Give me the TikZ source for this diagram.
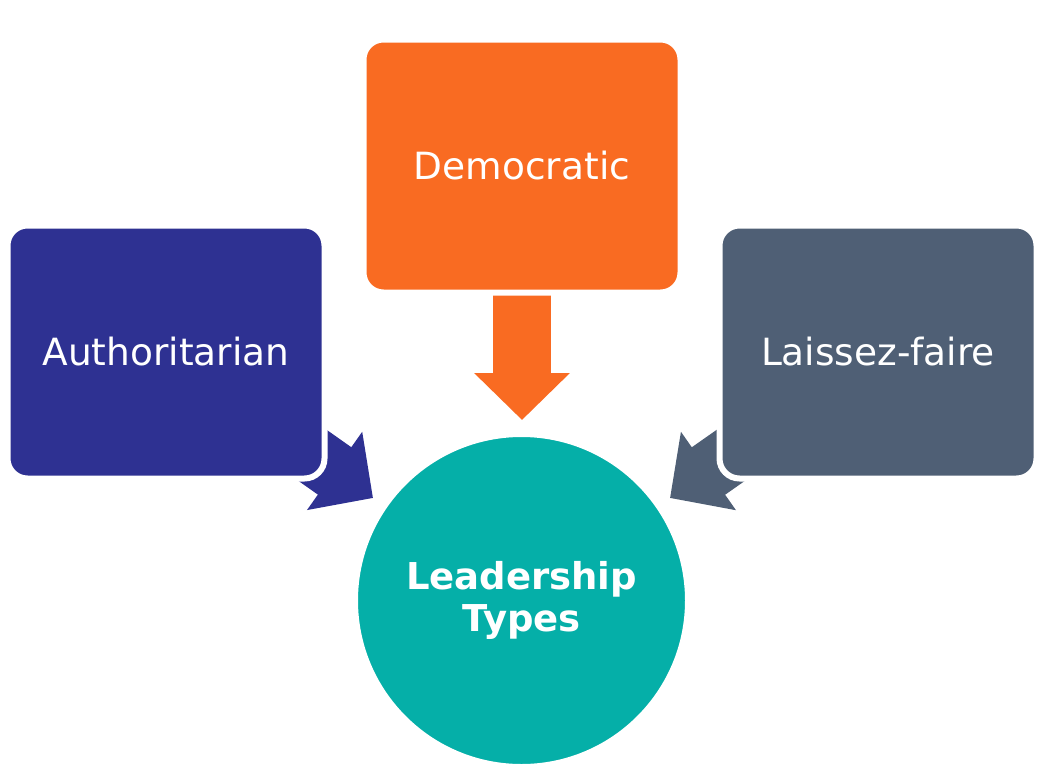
\documentclass[tikz,border=0pt]{standalone}
\usepackage{fontspec}
\setmainfont{DejaVu Sans}
\usetikzlibrary{arrows.meta}
\definecolor{demorange}{HTML}{F96B22}
\definecolor{authblue}{HTML}{2E3192}
\definecolor{laisslate}{HTML}{4F5F75}
\definecolor{typeteal}{HTML}{05AFA8}
\begin{document}
\begin{tikzpicture}[x=1pt,y=-1pt]
        		\tikzstyle{leader}=[rectangle,rounded corners=20pt,draw=white,line width=6pt,minimum width=317pt,minimum height=253pt,inner sep=0pt,text=white,font=\fontsize{37.5}{44}\selectfont]
        		\tikzstyle{hub}=[circle,draw=white,line width=4pt,fill=typeteal,minimum size=331pt,inner sep=0pt,text=white,align=center,font=\bfseries\fontsize{37}{42}\selectfont]
        		\tikzstyle{flow}=[draw, line width=58pt, -{Triangle[length=47pt,width=93pt]}]
        		\useasboundingbox (0,0) rectangle (1052,763);
       			\begin{scope}
			        % target points of the block arrows
			        \coordinate (tdem) at (522,420);
			        \coordinate (tauth) at (373,498);
			        \coordinate (tlais) at (670,498);
			        \node [hub] (types) at (521.5,600.5) {Leadership\\Types};
			        \path[flow, demorange] (522,166) -- (tdem);
			        \path[flow, authblue] (166,352) -- (tauth);
			        \path[flow, laisslate] (878,352) -- (tlais);
			        \node [leader, fill=demorange] (dem) at (522,166) {Democratic};
			        \node [leader, fill=authblue] (auth) at (166,352) {Authoritarian};
			        \node [leader, fill=laisslate] (lais) at (878,352) {Laissez-faire};
		        \end{scope}
		    \end{tikzpicture}
\end{document}
